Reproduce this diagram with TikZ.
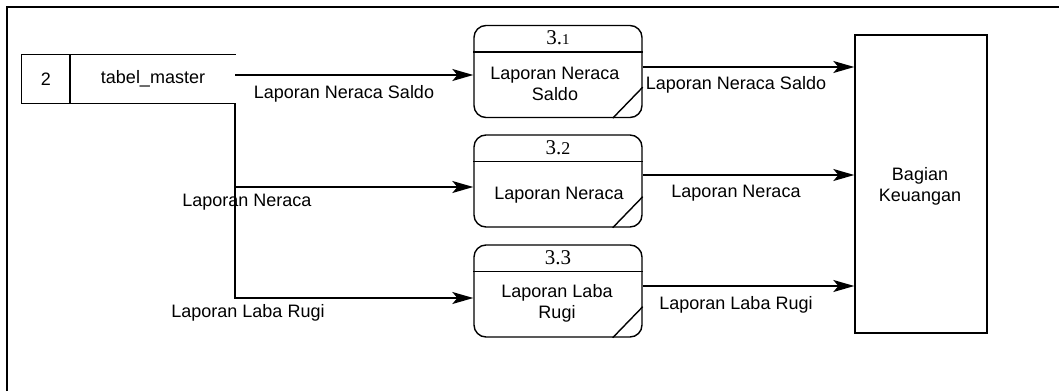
\documentclass[tikz,border=0pt]{standalone}
\usepackage{fontspec}
\setmainfont{Liberation Sans}
\newfontfamily\numfont{Liberation Serif}
\usetikzlibrary{arrows.meta}
\begin{document}
\begin{tikzpicture}[x=1pt,y=-1pt,
  line width=1.4pt,
  every node/.style={font=\fontsize{18}{21}\selectfont},
  lbl/.style={inner sep=0pt, align=center},
  proc/.style={draw, rounded corners=12pt, minimum width=168pt, minimum height=92pt, inner sep=0pt},
  ent/.style={draw, minimum width=132pt, minimum height=298pt, inner sep=0pt},
  flow/.style={-{Stealth[length=21pt,width=12pt,inset=5pt]}},
  num/.style={inner sep=0pt, font=\numfont\fontsize{21}{23}\selectfont}]
\useasboundingbox (0,0) rectangle (1059,391);
% frame
\draw[line width=2pt] (7,391) -- (7,7) -- (1059,7);
% data store
\node[minimum width=213pt, minimum height=48pt, inner sep=0pt] (st) at (128.5,79) {};
\draw (st.north east) -- (st.north west) -- (st.south west) -- (st.south east);
\coordinate (div) at (70,79);
\draw (div |- st.north) -- (div |- st.south);
\node[lbl] (stn) at (46,79) {2};
\node[lbl] (stt) at (153,79) {tabel\_master};
% processes
\node[proc] (p1) at (558,71.5) {};
\node[proc] (p2) at (558,181) {};
\node[proc] (p3) at (558,291) {};
\foreach \p in {p1,p2,p3}{
  \draw ([yshift=-27pt]\p.north west) -- ([yshift=-27pt]\p.north east);
  \draw ([xshift=-30pt]\p.south east) -- ([yshift=31pt]\p.south east);
}
\node[num] (n1) at ([yshift=-13pt]p1.north) {3.{\fontsize{15}{17}\selectfont 1}};
\node[num] (n2) at ([yshift=-13pt]p2.north) {3.{\fontsize{18}{17}\selectfont 2}};
\node[num] (n3) at ([yshift=-13pt]p3.north) {3.3};
\node[lbl] (t1) at (555,84) {Laporan Neraca\\Saldo};
\node[lbl] (t2) at (559,195) {Laporan Neraca};
\node[lbl] (t3) at (557,303) {Laporan Laba\\Rugi};
% external entity
\node[ent] (e) at (921,184) {};
\node[lbl] (et) at (920,186) {Bagian\\Keuangan};
% connectors from store
\coordinate (sr) at (235,75);
\coordinate (sb) at (235,103);
\coordinate (j2) at (235,187);
\coordinate (j3) at (235,298);
\draw[flow] (sr) -- (sr -| p1.west);
\draw[flow] (j2) -- (j2 -| p2.west);
\draw[flow] (sb) -- (j3) -- (j3 -| p3.west);
% connectors to entity
\coordinate (o1) at (700,67);
\coordinate (o2) at (700,175);
\coordinate (o3) at (700,286);
\draw[flow] (o1 -| p1.east) -- (o1 -| e.west);
\draw[flow] (o2 -| p2.east) -- (o2 -| e.west);
\draw[flow] (o3 -| p3.east) -- (o3 -| e.west);
% labels
\node[lbl] (l1) at (344,94) {Laporan Neraca Saldo};
\node[lbl] (l2) at (247,202) {Laporan Neraca};
\node[lbl] (l3) at (248,313) {Laporan Laba Rugi};
\node[lbl] (r1) at (736,85) {Laporan Neraca Saldo};
\node[lbl] (r2) at (736,193) {Laporan Neraca};
\node[lbl] (r3) at (736,305) {Laporan Laba Rugi};
\end{tikzpicture}
\end{document}
